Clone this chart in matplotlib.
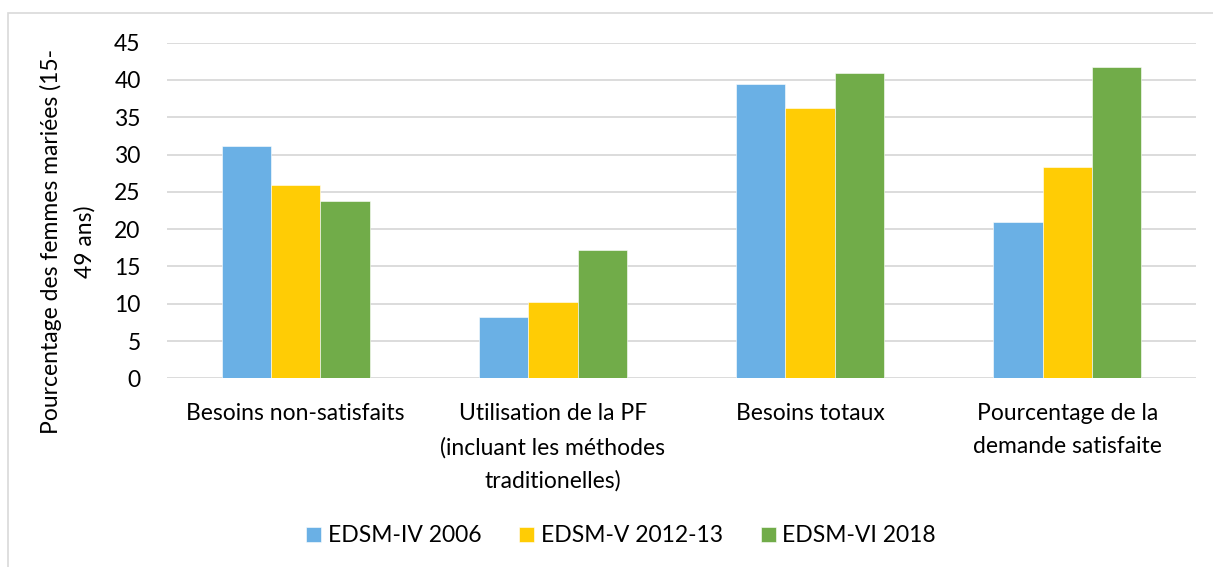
import matplotlib.pyplot as plt
import numpy as np
from matplotlib.patches import Rectangle

categories = [
    'Besoins non-satisfaits',
    'Utilisation de la PF\n(incluant les méthodes\ntraditionelles)',
    'Besoins totaux',
    'Pourcentage de la\ndemande satisfaite',
]
series_names = ['EDSM-IV 2006', 'EDSM-V 2012-13', 'EDSM-VI 2018']
edsm_iv = [31.1, 8.2, 39.5, 20.9]
edsm_v = [25.9, 10.2, 36.2, 28.3]
edsm_vi = [23.8, 17.2, 41.0, 41.8]
colors = ['#6AB0E5', '#FFCC05', '#71AC49']

plt.rcParams['font.family'] = ['Lato', 'DejaVu Sans']
FS = 16.5

fig = plt.figure(figsize=(12.13, 5.67), dpi=100)
ax = fig.add_axes([0.1377, 0.3328, 0.8483, 0.5919])

# light frame around the whole chart
fig.patches.append(Rectangle((8 / 1213, -0.01), 1.2, 1 - 13 / 567 + 0.01,
                             transform=fig.transFigure, fill=False,
                             edgecolor='#D9D9D9', linewidth=1.2))

x = np.arange(len(categories))
width = 0.192
for i, (vals, name) in enumerate(zip([edsm_iv, edsm_v, edsm_vi], series_names)):
    ax.bar(x + (i - 1) * width, vals, width, color=colors[i], label=name,
           zorder=3, edgecolor='white', linewidth=0.4)

ax.set_xlim(-0.5, len(categories) - 0.5)
ax.set_ylim(0, 45)
ax.set_yticks(range(0, 46, 5))
ax.yaxis.grid(True, color='#D9D9D9', linewidth=1.3, zorder=0)
ax.set_axisbelow(True)
for s in ax.spines.values():
    s.set_visible(False)
ax.tick_params(axis='both', length=0, labelsize=FS, colors='black')
ax.tick_params(axis='y', pad=19)
ax.tick_params(axis='x', pad=18)
ax.set_xticks(x)
ax.set_xticklabels(categories, linespacing=1.7, ha='center', va='top')

fig.text(68 / 1213, 1 - 242 / 567, 'Pourcentage des femmes mariées (15-\n49 ans)',
         rotation=90, ha='center', va='center', fontsize=FS, linespacing=1.7)

fig.legend(loc='center', bbox_to_anchor=(621 / 1213, 1 - 536 / 567), ncol=3,
           frameon=False, fontsize=FS, handlelength=0.65, handleheight=0.65,
           handletextpad=0.3, columnspacing=1.65)

plt.savefig('out.png', dpi=100)
